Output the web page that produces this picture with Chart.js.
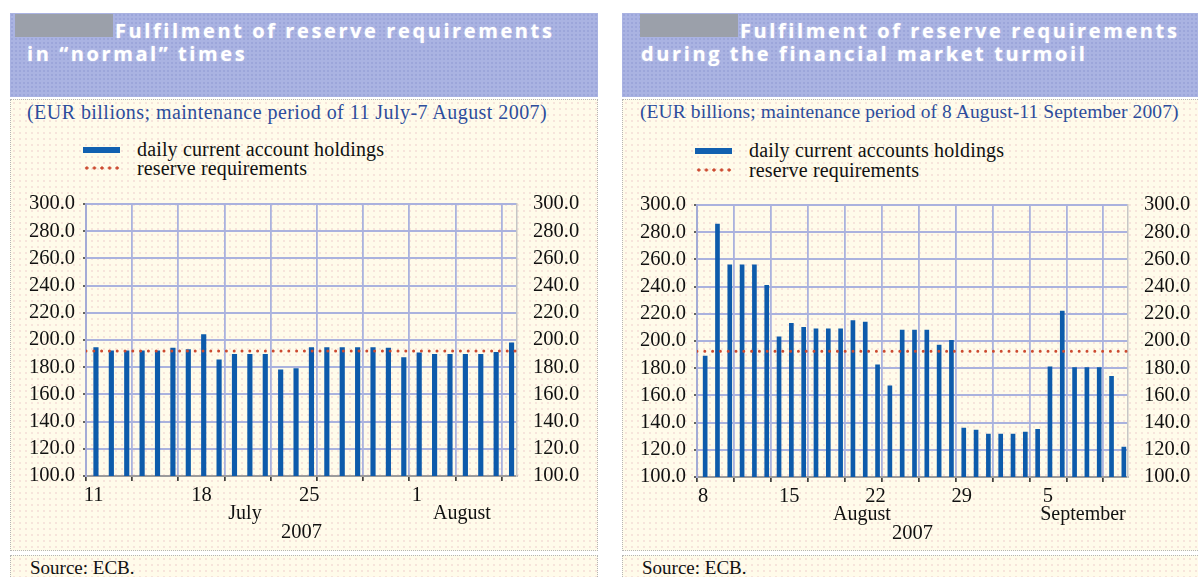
<!DOCTYPE html>
<html>
<head>
<meta charset="utf-8">
<script src="https://cdn.jsdelivr.net/npm/chart.js@4.4.1/dist/chart.umd.min.js"></script>
<style>
  body { margin: 0; width: 1198px; height: 577px; overflow: hidden; background: #fff; position: relative; }
  .hdr { position: absolute; top: 13px; height: 84px; background-color: #aab3e2;
         background-image: radial-gradient(#9ca5da 0.7px, transparent 1.1px); background-size: 4px 4px; }
  .box { position: absolute; background-color: #fffbea; box-sizing: border-box; border: 1px dotted #b5b5b5;
         background-image: radial-gradient(#f4dcd6 0.6px, transparent 1px); background-size: 6px 6px; }
  .grey { position: absolute; top: 14px; height: 23px; background: #9ba0aa; }
  .title { position: absolute; color: #fff; font: 700 20px 'Open Sans'; letter-spacing: 2.6px; white-space: nowrap;
           line-height: 23px; text-shadow: 0 0 2px rgba(255,255,255,0.5); }
  .sub { position: absolute; top: 101px; color: #2d4d9c; font: 20px 'Liberation Serif'; letter-spacing: 0.45px;
         white-space: nowrap; line-height: 22px; }
  .leg { position: absolute; color: #111; font: 20px 'Liberation Serif'; letter-spacing: 0.15px; white-space: nowrap; line-height: 20px; }
  .sw { position: absolute; width: 37px; height: 6px; background: #1160b0; }
  .dots { position: absolute; width: 38px; height: 4px;
          background-image: radial-gradient(circle, #cc4a30 1.4px, transparent 1.8px); background-size: 7.6px 4px; }
  .mon { position: absolute; color: #111; font: 20px 'Liberation Serif'; white-space: nowrap; line-height: 20px; transform: translateX(-50%); }
  .src { position: absolute; top: 558px; color: #111; font: 19px 'Liberation Serif'; white-space: nowrap; line-height: 20px; }
  canvas { position: absolute; }
</style>
</head>
<body>
  <!-- left panel -->
  <div class="hdr" style="left:10px;width:588px"></div>
  <div class="grey" style="left:15px;width:98px"></div>
  <div class="title" style="left:115px;top:19px">Fulfilment of reserve requirements</div>
  <div class="title" style="left:27px;top:42px">in “normal” times</div>
  <div class="box" style="left:10px;top:99px;width:588px;height:452px"></div>
  <div class="box" style="left:10px;top:555px;width:588px;height:40px"></div>
  <div class="sub" style="left:27px">(EUR billions; maintenance period of 11 July-7 August 2007)</div>
  <div class="sw" style="left:83px;top:147px"></div>
  <div class="leg" style="left:137px;top:139px">daily current account holdings</div>
  <div class="dots" style="left:83px;top:166px"></div>
  <div class="leg" style="left:137px;top:158px">reserve requirements</div>
  <canvas id="left" width="588" height="364" style="left:10px;top:185px"></canvas>
  <div class="mon" style="left:245px;top:502px">July</div>
  <div class="mon" style="left:462px;top:502px">August</div>
  <div class="src" style="left:30px">Source: ECB.</div>

  <!-- right panel -->
  <div class="hdr" style="left:622px;width:600px"></div>
  <div class="grey" style="left:640px;width:98px"></div>
  <div class="title" style="left:740px;top:19px">Fulfilment of reserve requirements</div>
  <div class="title" style="left:641px;top:42px">during the financial market turmoil</div>
  <div class="box" style="left:622px;top:99px;width:600px;height:452px"></div>
  <div class="box" style="left:622px;top:555px;width:600px;height:40px"></div>
  <div class="sub" style="left:640px;font-size:19.5px;letter-spacing:0.1px">(EUR billions; maintenance period of 8 August-11 September 2007)</div>
  <div class="sw" style="left:695px;top:148px"></div>
  <div class="leg" style="left:749px;top:140px">daily current accounts holdings</div>
  <div class="dots" style="left:695px;top:168px"></div>
  <div class="leg" style="left:749px;top:160px">reserve requirements</div>
  <canvas id="right" width="576" height="364" style="left:622px;top:186px"></canvas>
  <div class="mon" style="left:862px;top:503px">August</div>
  <div class="mon" style="left:1083px;top:503px">September</div>
  <div class="src" style="left:642px">Source: ECB.</div>

<script>
// 11 July - 7 August 2007
const leftDays = [11, 12, 13, 14, 15, 16, 17, 18, 19, 20, 21, 22, 23, 24, 25, 26, 27, 28, 29, 30, 31,
                  1, 2, 3, 4, 5, 6, 7];
const leftHoldings = [194.5, 192, 192, 192, 192, 194, 193, 204, 185.5, 189.5, 189.5, 189.5, 178, 179,
                      194.5, 194.5, 194.5, 194.5, 194.5, 194, 187, 190.5, 189.5, 189.5, 189.5, 189.5, 191, 198];
const leftReserve = 192;
const leftLabelled = [0, 7, 14, 21]; // 11, 18, 25, 1

// 8 August - 11 September 2007
const rightDays = [8, 9, 10, 11, 12, 13, 14, 15, 16, 17, 18, 19, 20, 21, 22, 23, 24, 25, 26, 27, 28, 29, 30, 31,
                   1, 2, 3, 4, 5, 6, 7, 8, 9, 10, 11];
const rightHoldings = [189, 286, 256, 256, 256, 241, 203, 213, 210, 209, 209, 209, 215, 214, 182.5, 167,
                       208, 208, 208, 197, 200.5, 136, 134.5, 131.5, 131.5, 131.5, 133, 135,
                       181, 222, 180.5, 180.5, 180.5, 174, 122];
const rightReserve = 192.5;
const rightLabelled = [0, 7, 14, 21, 28]; // 8, 15, 22, 29, 5

const yMin = 100, yMax = 300, yStep = 20;
const tickFont = { family: 'Liberation Serif', size: 20.5 };

function makeChart(id, days, holdings, reserve, labelled, sizes) {
  const labels = days.map(String);
  const yTicks = { stepSize: yStep, autoSkip: false, padding: 8, color: '#111', font: tickFont, callback: v => v.toFixed(1) };
  return new Chart(document.getElementById(id), {
    type: 'bar',
    data: {
      labels,
      datasets: [
        {
          // reserve requirement, across the whole plot
          type: 'line',
          data: [{ x: 0, y: reserve }, { x: 1, y: reserve }],
          xAxisID: 'x2',
          yAxisID: 'y',
          borderColor: '#cc4a30',
          borderWidth: 3,
          borderDash: [0, 7.8],
          borderCapStyle: 'round',
          pointRadius: 0,
          order: 0
        },
        {
          data: holdings,
          backgroundColor: '#0d5bab',
          barThickness: sizes.bar,
          order: 1
        }
      ]
    },
    options: {
      responsive: false,
      animation: false,
      layout: { padding: { top: 19, left: 0, right: 0, bottom: 0 } },
      plugins: { legend: { display: false }, tooltip: { enabled: false } },
      scales: {
        x: {
          offset: true,
          grid: {
            offset: true,
            color: c => (c.index % 3 === 0 ? '#aab2de' : 'transparent'),
            lineWidth: 1.8,
            tickColor: c => (c.index % 3 === 0 ? '#222' : 'transparent'),
            tickLength: 5,
            tickWidth: 1.5
          },
          border: { color: '#9c9c9c', width: 2 },
          ticks: {
            autoSkip: false,
            maxRotation: 0,
            padding: 2,
            color: '#111',
            font: tickFont,
            callback: (v, i) => (labelled.includes(i) ? labels[i] : '')
          },
          title: { display: true, text: '2007', color: '#111', font: tickFont, padding: { top: 0, bottom: 4 } },
          afterFit: s => { s.height = 73; s.paddingLeft = 0; s.paddingRight = 0; }
        },
        x2: { type: 'linear', display: false, offset: false, min: 0, max: 1 },
        y: {
          min: yMin, max: yMax,
          ticks: yTicks,
          grid: { color: '#aab2de', lineWidth: 2, tickColor: '#333', tickLength: 3, tickWidth: 1.5 },
          border: { color: '#a4abd6', width: 2 },
          afterFit: s => { s.width = sizes.left; s.paddingTop = 0; s.paddingBottom = 0; }
        },
        y2: {
          position: 'right',
          min: yMin, max: yMax,
          ticks: yTicks,
          grid: { display: false },
          border: { color: '#c6c6c6', width: 1.5 },
          afterFit: s => { s.width = sizes.right; s.paddingTop = 0; s.paddingBottom = 0; }
        }
      }
    }
  });
}

makeChart('left', leftDays, leftHoldings, leftReserve, leftLabelled, { left: 76, right: 81, bar: 4.5 });
makeChart('right', rightDays, rightHoldings, rightReserve, rightLabelled, { left: 75, right: 70, bar: 4 });
</script>
</body>
</html>
